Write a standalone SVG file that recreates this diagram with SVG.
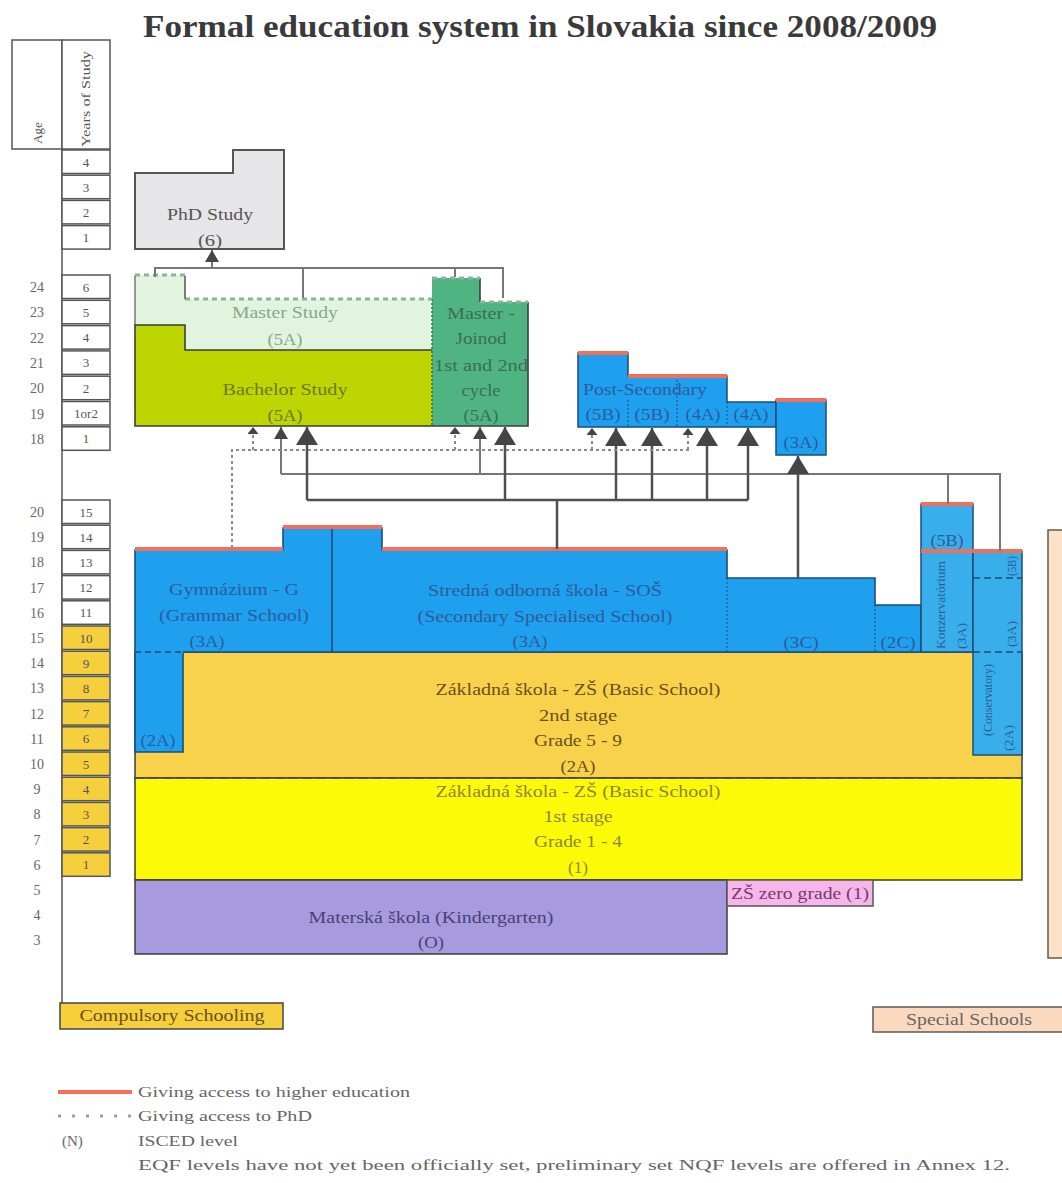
<svg xmlns="http://www.w3.org/2000/svg" width="1062" height="1183" viewBox="0 0 1062 1183">
<style>
text{font-family:"Liberation Serif","Times New Roman",serif;font-size:16px;text-anchor:middle}
.title{font-size:31px;font-weight:bold;fill:#3a3a3a}
.num{font-size:14px;fill:#666}
.yn{font-size:13px;fill:#555}
.box{fill:#fff;stroke:#555;stroke-width:1.5}
.ybox{fill:#f6cf3c;stroke:#555;stroke-width:1.5}
.edge{fill:none;stroke:#3d3d3d;stroke-width:1.6}
.red{fill:none;stroke:#f0705a;stroke-width:4}
.phddot{fill:none;stroke:#8fb39a;stroke-width:3;stroke-dasharray:5 4}
.bt{fill:#2d5c9c}
.rot{font-size:12px}
.thin{fill:none;stroke:#777;stroke-width:2}
.thick{fill:none;stroke:#505050;stroke-width:2.5}
.dotc{fill:none;stroke:#8a8a8a;stroke-width:2;stroke-dasharray:3 3}
.leg{fill:#666;text-anchor:start;font-size:15px}
</style>
<defs>
<marker id="big" markerUnits="userSpaceOnUse" markerWidth="18" markerHeight="22" viewBox="0 0 18 22" refX="18" refY="11" orient="auto"><path d="M0,0 L18,11 L0,22 z" fill="#454545"/></marker>
<marker id="mid" markerUnits="userSpaceOnUse" markerWidth="12" markerHeight="14" viewBox="0 0 12 14" refX="12" refY="7" orient="auto"><path d="M0,0 L12,7 L0,14 z" fill="#454545"/></marker>
<marker id="small" markerUnits="userSpaceOnUse" markerWidth="7" markerHeight="11" viewBox="0 0 7 11" refX="7" refY="5.5" orient="auto"><path d="M0,0 L7,5.5 L0,11 z" fill="#454545"/></marker>
</defs>
<rect width="1062" height="1183" fill="#fff"/>

<g id="title"><text class="title" x="540" y="37" textLength="794" lengthAdjust="spacingAndGlyphs">Formal education system in Slovakia since 2008/2009</text></g>

<g id="scale">
<rect class="box" x="12" y="40" width="50" height="109"/>
<rect class="box" x="62" y="40" width="48" height="109"/>
<text class="yn" transform="translate(42,133) rotate(-90)">Age</text>
<text class="yn" transform="translate(90,99) rotate(-90)" textLength="96" lengthAdjust="spacingAndGlyphs">Years of Study</text>
<line x1="62" y1="149" x2="62" y2="1003" stroke="#555" stroke-width="1.5"/>
<rect class="box" x="62" y="150" width="48" height="23.5"/><text class="yn" x="86" y="166.5">4</text>
<rect class="box" x="62" y="175.2" width="48" height="23.5"/><text class="yn" x="86" y="191.7">3</text>
<rect class="box" x="62" y="200.4" width="48" height="23.5"/><text class="yn" x="86" y="216.9">2</text>
<rect class="box" x="62" y="225.6" width="48" height="23.5"/><text class="yn" x="86" y="242.1">1</text>
<rect class="box" x="62" y="275" width="48" height="23.5"/><text class="yn" x="86" y="291.5">6</text><text class="num" x="37" y="292">24</text>
<rect class="box" x="62" y="300.3" width="48" height="23.5"/><text class="yn" x="86" y="316.8">5</text><text class="num" x="37" y="317.3">23</text>
<rect class="box" x="62" y="325.6" width="48" height="23.5"/><text class="yn" x="86" y="342.1">4</text><text class="num" x="37" y="342.6">22</text>
<rect class="box" x="62" y="350.9" width="48" height="23.5"/><text class="yn" x="86" y="367.4">3</text><text class="num" x="37" y="367.9">21</text>
<rect class="box" x="62" y="376.2" width="48" height="23.5"/><text class="yn" x="86" y="392.7">2</text><text class="num" x="37" y="393.2">20</text>
<rect class="box" x="62" y="401.5" width="48" height="23.5"/><text class="yn" x="86" y="418">1or2</text><text class="num" x="37" y="418.5">19</text>
<rect class="box" x="62" y="426.8" width="48" height="23.5"/><text class="yn" x="86" y="443.3">1</text><text class="num" x="37" y="443.8">18</text>
<rect class="box" x="62" y="500" width="48" height="23.5"/><text class="yn" x="86" y="516.5">15</text><text class="num" x="37" y="517">20</text>
<rect class="box" x="62" y="525.2" width="48" height="23.5"/><text class="yn" x="86" y="541.7">14</text><text class="num" x="37" y="542.2">19</text>
<rect class="box" x="62" y="550.4" width="48" height="23.5"/><text class="yn" x="86" y="566.9">13</text><text class="num" x="37" y="567.4">18</text>
<rect class="box" x="62" y="575.6" width="48" height="23.5"/><text class="yn" x="86" y="592.1">12</text><text class="num" x="37" y="592.6">17</text>
<rect class="box" x="62" y="600.8" width="48" height="23.5"/><text class="yn" x="86" y="617.3">11</text><text class="num" x="37" y="617.8">16</text>
<rect class="ybox" x="62" y="626" width="48" height="23.5"/><text class="yn" x="86" y="642.5">10</text><text class="num" x="37" y="643">15</text>
<rect class="ybox" x="62" y="651.2" width="48" height="23.5"/><text class="yn" x="86" y="667.7">9</text><text class="num" x="37" y="668.2">14</text>
<rect class="ybox" x="62" y="676.4" width="48" height="23.5"/><text class="yn" x="86" y="692.9">8</text><text class="num" x="37" y="693.4">13</text>
<rect class="ybox" x="62" y="701.6" width="48" height="23.5"/><text class="yn" x="86" y="718.1">7</text><text class="num" x="37" y="718.6">12</text>
<rect class="ybox" x="62" y="726.8" width="48" height="23.5"/><text class="yn" x="86" y="743.3">6</text><text class="num" x="37" y="743.8">11</text>
<rect class="ybox" x="62" y="752" width="48" height="23.5"/><text class="yn" x="86" y="768.5">5</text><text class="num" x="37" y="769">10</text>
<rect class="ybox" x="62" y="777.2" width="48" height="23.5"/><text class="yn" x="86" y="793.7">4</text><text class="num" x="37" y="794.2">9</text>
<rect class="ybox" x="62" y="802.4" width="48" height="23.5"/><text class="yn" x="86" y="818.9">3</text><text class="num" x="37" y="819.4">8</text>
<rect class="ybox" x="62" y="827.6" width="48" height="23.5"/><text class="yn" x="86" y="844.1">2</text><text class="num" x="37" y="844.6">7</text>
<rect class="ybox" x="62" y="852.8" width="48" height="23.5"/><text class="yn" x="86" y="869.3">1</text><text class="num" x="37" y="869.8">6</text>
<text class="num" x="37" y="895">5</text>
<text class="num" x="37" y="920">4</text>
<text class="num" x="37" y="945">3</text>
</g>

<g id="phd">
<polygon points="135,173 233,173 233,150 284,150 284,249 135,249" fill="#e6e6e9" stroke="#555" stroke-width="2"/>
<text x="210" y="220" fill="#555" textLength="86" lengthAdjust="spacingAndGlyphs">PhD Study</text>
<text x="210" y="246" fill="#555" textLength="24" lengthAdjust="spacingAndGlyphs">(6)</text>
</g>

<g id="master-study">
<polygon points="135,275 185,275 185,299 432,299 432,350 185,350 185,325 135,325" fill="#e1f5de"/>
<line x1="135" y1="275" x2="135" y2="325" stroke="#777" stroke-width="1.5"/>
<text x="285" y="318" fill="#86a88d" textLength="106" lengthAdjust="spacingAndGlyphs">Master Study</text>
<text x="285" y="345" fill="#86a88d" textLength="35" lengthAdjust="spacingAndGlyphs">(5A)</text>
</g>

<g id="bachelor">
<polygon points="135,325 185,325 185,350 432,350 432,426 135,426" fill="#bdd500"/>
<polyline class="edge" points="432,426 135,426 135,325 185,325 185,350 432,350"/>
<text x="285" y="395" fill="#6a7a28" textLength="125" lengthAdjust="spacingAndGlyphs">Bachelor Study</text>
<text x="285" y="421" fill="#6a7a28" textLength="35" lengthAdjust="spacingAndGlyphs">(5A)</text>
</g>

<g id="master-joined">
<polygon points="432,278 480,278 480,302 528,302 528,426 432,426" fill="#4fb482"/>
<polyline class="edge" points="480,278 480,302"/>
<polyline class="edge" points="528,302 528,426 432,426"/>
<line x1="432" y1="299" x2="432" y2="426" stroke="#3a6a50" stroke-width="1.5" stroke-dasharray="2 2"/>
<text x="481" y="319" fill="#3b6e55" textLength="68" lengthAdjust="spacingAndGlyphs">Master -</text>
<text x="481" y="344" fill="#3b6e55" textLength="51" lengthAdjust="spacingAndGlyphs">Joinod</text>
<text x="481" y="371" fill="#3b6e55" textLength="94" lengthAdjust="spacingAndGlyphs">1st and 2nd</text>
<text x="481" y="396" fill="#3b6e55" textLength="39" lengthAdjust="spacingAndGlyphs">cycle</text>
<text x="481" y="421" fill="#3b6e55" textLength="35" lengthAdjust="spacingAndGlyphs">(5A)</text>
</g>

<g id="phd-access">
<polyline class="phddot" points="135,275 185,275"/>
<polyline class="phddot" points="185,299 432,299"/>
<polyline class="phddot" points="432,278 480,278"/>
<polyline class="phddot" points="480,302 528,302"/>
<line x1="185" y1="276" x2="185" y2="299" stroke="#555" stroke-width="1.5"/>
</g>

<g id="post-secondary">
<polygon points="578,353 628,353 628,376 727,376 727,402 776,402 776,427 578,427" fill="#1ea0ef" stroke="#1d4c78" stroke-width="1.5"/>
<rect x="776" y="400" width="50" height="55" fill="#1ea0ef" stroke="#1d4c78" stroke-width="1.5"/>
<path d="M628,400 V427 M677,376 V427 M727,402 V427" stroke="#1d4c78" stroke-width="1" stroke-dasharray="2 2" fill="none"/>
<path class="red" d="M578,353 H628 M628,376 H727 M776,400 H826"/>
<text class="bt" x="583" y="395" style="text-anchor:start" textLength="124" lengthAdjust="spacingAndGlyphs">Post-Secondary</text>
<text class="bt" x="603" y="420" textLength="35" lengthAdjust="spacingAndGlyphs">(5B)</text>
<text class="bt" x="652" y="420" textLength="35" lengthAdjust="spacingAndGlyphs">(5B)</text>
<text class="bt" x="703" y="420" textLength="35" lengthAdjust="spacingAndGlyphs">(4A)</text>
<text class="bt" x="751" y="420" textLength="35" lengthAdjust="spacingAndGlyphs">(4A)</text>
<text class="bt" x="801" y="448" textLength="35" lengthAdjust="spacingAndGlyphs">(3A)</text>
</g>

<g id="basic-2nd">
<rect x="135" y="652" width="887" height="126" fill="#f8d24a" stroke="#3d3d3d" stroke-width="1.5"/>
<text x="578" y="695" fill="#6b5020" textLength="285" lengthAdjust="spacingAndGlyphs">Základná škola - ZŠ (Basic School)</text>
<text x="578" y="721" fill="#6b5020" textLength="78" lengthAdjust="spacingAndGlyphs">2nd stage</text>
<text x="578" y="746" fill="#6b5020" textLength="88" lengthAdjust="spacingAndGlyphs">Grade 5 - 9</text>
<text x="578" y="772" fill="#6b5020" textLength="35" lengthAdjust="spacingAndGlyphs">(2A)</text>
</g>

<g id="basic-1st">
<rect x="135" y="778" width="887" height="102" fill="#fdfa08" stroke="#3d3d3d" stroke-width="1.5"/>
<line x1="135" y1="778" x2="1022" y2="778" stroke="#4a4a30" stroke-width="1.6" stroke-dasharray="9 5"/>
<text x="578" y="797" fill="#8a8838" textLength="285" lengthAdjust="spacingAndGlyphs">Základná škola - ZŠ (Basic School)</text>
<text x="578" y="822" fill="#8a8838" textLength="69" lengthAdjust="spacingAndGlyphs">1st stage</text>
<text x="578" y="847" fill="#8a8838" textLength="88" lengthAdjust="spacingAndGlyphs">Grade 1 - 4</text>
<text x="578" y="873" fill="#8a8838" textLength="20" lengthAdjust="spacingAndGlyphs">(1)</text>
</g>

<g id="secondary">
<polygon points="135,550 283,550 283,528 382,528 382,550 727,550 727,578 875,578 875,605 921,605 921,652 183,652 183,752 135,752" fill="#1ea0ef" stroke="#1d4c78" stroke-width="1.6"/>
<line x1="332" y1="528" x2="332" y2="652" stroke="#1d4c78" stroke-width="1.6"/>
<line x1="135" y1="652" x2="183" y2="652" stroke="#1ea0ef" stroke-width="2"/>
<line x1="135" y1="652" x2="183" y2="652" stroke="#1d4c78" stroke-width="1.4" stroke-dasharray="6 4"/>
<path d="M727,578 V652 M875,605 V652" stroke="#1d4c78" stroke-width="1" stroke-dasharray="2 2" fill="none"/>
<path class="red" d="M135,549 H283 M283,527 H382 M382,549 H727"/>
<text class="bt" x="234" y="595" textLength="130" lengthAdjust="spacingAndGlyphs">Gymnázium - G</text>
<text class="bt" x="234" y="621" textLength="150" lengthAdjust="spacingAndGlyphs">(Grammar School)</text>
<text class="bt" x="207" y="647" textLength="35" lengthAdjust="spacingAndGlyphs">(3A)</text>
<text class="bt" x="158" y="746" textLength="35" lengthAdjust="spacingAndGlyphs">(2A)</text>
<text class="bt" x="545" y="596" textLength="234" lengthAdjust="spacingAndGlyphs">Stredná odborná škola - SOŠ</text>
<text class="bt" x="545" y="622" textLength="255" lengthAdjust="spacingAndGlyphs">(Secondary Specialised School)</text>
<text class="bt" x="530" y="647" textLength="35" lengthAdjust="spacingAndGlyphs">(3A)</text>
<text class="bt" x="801" y="648" textLength="35" lengthAdjust="spacingAndGlyphs">(3C)</text>
<text class="bt" x="898" y="648" textLength="35" lengthAdjust="spacingAndGlyphs">(2C)</text>
</g>

<g id="conservatory">
<rect x="921" y="504" width="52" height="47" fill="#38aeea" stroke="#1d4c78" stroke-width="1.5"/>
<rect x="921" y="551" width="52" height="101" fill="#38aeea" stroke="#1d4c78" stroke-width="1.5"/>
<rect x="973" y="551" width="49" height="204" fill="#38aeea" stroke="#1d4c78" stroke-width="1.5"/>
<path d="M973,578 H1022 M973,652 H1022" stroke="#1d4c78" stroke-width="1.4" stroke-dasharray="7 4" fill="none"/>
<path class="red" d="M921,504 H973 M921,551 H1022"/>
<text class="bt" x="947" y="546" textLength="33" lengthAdjust="spacingAndGlyphs">(5B)</text>
<text class="bt rot" transform="translate(945,605) rotate(-90)" textLength="88" lengthAdjust="spacingAndGlyphs">Konzervatórium</text>
<text class="bt rot" transform="translate(966,636) rotate(-90)" textLength="26" lengthAdjust="spacingAndGlyphs">(3A)</text>
<text class="bt rot" transform="translate(1016,566) rotate(-90)" textLength="20" lengthAdjust="spacingAndGlyphs">(5B)</text>
<text class="bt rot" transform="translate(1016,634) rotate(-90)" textLength="26" lengthAdjust="spacingAndGlyphs">(3A)</text>
<text class="bt rot" transform="translate(992,700) rotate(-90)" textLength="72" lengthAdjust="spacingAndGlyphs">(Conservatory)</text>
<text class="bt rot" transform="translate(1013,738) rotate(-90)" textLength="26" lengthAdjust="spacingAndGlyphs">(2A)</text>
</g>

<g id="kindergarten">
<rect x="135" y="880" width="592" height="74" fill="#a89ade" stroke="#3d3d3d" stroke-width="1.5"/>
<text x="431" y="923" fill="#4a4272" textLength="245" lengthAdjust="spacingAndGlyphs">Materská škola (Kindergarten)</text>
<text x="431" y="948" fill="#4a4272" textLength="26" lengthAdjust="spacingAndGlyphs">(O)</text>
</g>

<g id="zero-grade">
<rect x="727" y="880" width="146" height="26" fill="#f6b6ea" stroke="#555" stroke-width="1.5"/>
<text x="800" y="899" fill="#7a3a6a" textLength="138" lengthAdjust="spacingAndGlyphs">ZŠ zero grade (1)</text>
</g>

<g id="special-schools">
<rect x="1048" y="530" width="20" height="428" fill="#fbe2c8" stroke="#6a5a4a" stroke-width="1.5"/>
<rect x="873" y="1007" width="195" height="25" fill="#fad9bf" stroke="#5a5a5a" stroke-width="1.5"/>
<text x="969" y="1025" fill="#666" textLength="126" lengthAdjust="spacingAndGlyphs">Special Schools</text>
</g>

<g id="compulsory">
<rect x="60" y="1003" width="223" height="26" fill="#f6cf3c" stroke="#444" stroke-width="1.5"/>
<text x="172" y="1021" fill="#6b5020" textLength="185" lengthAdjust="spacingAndGlyphs">Compulsory Schooling</text>
</g>

<g id="connectors">
<path class="thin" d="M155,277 V268 H503 V298 M303,268 V298 M455,268 V277"/>
<path class="thin" d="M212,268 V250" marker-end="url(#mid)"/>
<path class="thin" d="M281,474 H1000 V551 M948,474 V504"/>
<path class="thin" d="M281,474 V427" marker-end="url(#mid)"/>
<path class="thin" d="M480,474 V427" marker-end="url(#mid)"/>
<path class="thick" d="M307,500 H748 M557,500 V549"/>
<path class="thick" d="M307,500 V427" marker-end="url(#big)"/>
<path class="thick" d="M505,500 V427" marker-end="url(#big)"/>
<path class="thick" d="M616,500 V428" marker-end="url(#big)"/>
<path class="thick" d="M652,500 V428" marker-end="url(#big)"/>
<path class="thick" d="M707,500 V428" marker-end="url(#big)"/>
<path class="thick" d="M748,500 V428" marker-end="url(#big)"/>
<path class="thick" d="M798,578 V456" marker-end="url(#big)"/>
<path class="dotc" d="M232,548 V450 H690"/>
<path class="dotc" d="M253,450 V427" marker-end="url(#small)"/>
<path class="dotc" d="M455,450 V427" marker-end="url(#small)"/>
<path class="dotc" d="M592,450 V428" marker-end="url(#small)"/>
<path class="dotc" d="M688,450 V428" marker-end="url(#small)"/>
</g>

<g id="legend">
<line x1="58" y1="1092" x2="132" y2="1092" stroke="#f0705a" stroke-width="4"/>
<line x1="58" y1="1116" x2="132" y2="1116" stroke="#8fa898" stroke-width="3" stroke-dasharray="3 11"/>
<text class="leg" x="138" y="1097" textLength="272" lengthAdjust="spacingAndGlyphs">Giving access to higher education</text>
<text class="leg" x="138" y="1121" textLength="174" lengthAdjust="spacingAndGlyphs">Giving access to PhD</text>
<text class="leg" x="62" y="1146">(N)</text>
<text class="leg" x="138" y="1146" textLength="100" lengthAdjust="spacingAndGlyphs">ISCED level</text>
<text class="leg" x="138" y="1170" textLength="872" lengthAdjust="spacingAndGlyphs">EQF levels have not yet been officially set, preliminary set NQF levels are offered in Annex 12.</text>
</g>
</svg>
